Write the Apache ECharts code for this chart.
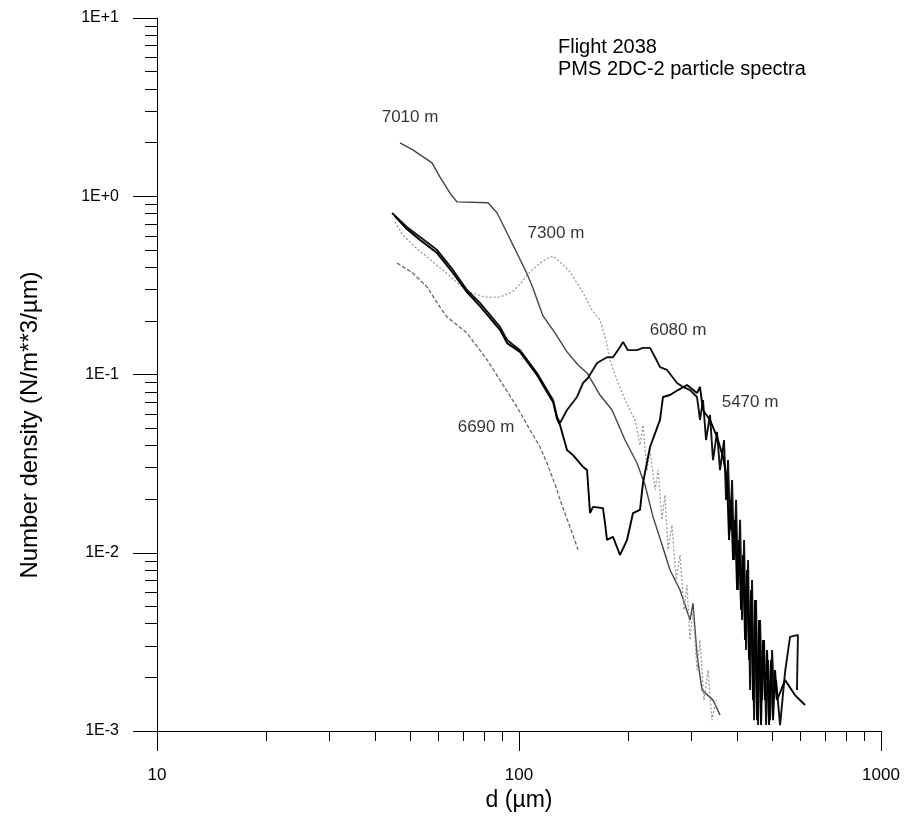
<!DOCTYPE html>
<html lang="en">
<head>
<meta charset="UTF-8">
<title>Flight 2038 - PMS 2DC-2 particle spectra</title>
<script src="https://cdn.jsdelivr.net/npm/echarts@6/dist/echarts.min.js"></script>
<style>
    html, body, #chart {
        width: 905px;
        height: 818px;
        margin: 0;
        padding: 0;
        background: #fff;
    }
</style>
</head>
<body>
<div id="chart"></div>
<script>
    var FONT = '"Liberation Sans", Arial, sans-serif';

    // d (um), number density (N/m**3/um)
    var s7010 = [[46.9, 1.99], [50.9, 1.82], [57.5, 1.54], [60.5, 1.28], [64.5, 1.04], [67.4, 0.93],
        [82.1, 0.92], [87.0, 0.805], [92.7, 0.622], [98.7, 0.48], [105, 0.371], [109, 0.31],
        [116.5, 0.213], [125.7, 0.171], [135.7, 0.134], [145.6, 0.113], [154.2, 0.102],
        [167.4, 0.0767], [180.7, 0.0632], [196.3, 0.0429], [211.8, 0.0319], [222.9, 0.024],
        [234.6, 0.0159], [248.4, 0.0111], [261.3, 0.008], [278.5, 0.00618], [296.8, 0.00419],
        [302.5, 0.0052], [310.3, 0.00267], [320.3, 0.0017], [343.5, 0.00149], [359.2, 0.00123]];

    var s7300 = [[45.4, 0.717], [47.8, 0.606], [51.6, 0.519], [55.7, 0.456], [62.5, 0.376],
        [68.7, 0.318], [73.2, 0.29], [80.5, 0.272], [88.6, 0.272], [95.6, 0.29], [101.9, 0.33],
        [107.3, 0.376], [114.3, 0.422], [120.3, 0.45], [124.2, 0.462], [129.8, 0.428],
        [138.4, 0.376], [144.6, 0.326], [150.3, 0.287], [159.1, 0.23], [167.4, 0.202],
        [173.9, 0.156], [178.4, 0.121], [186.5, 0.0931], [196.3, 0.0719], [209.1, 0.0556],
        [215.9, 0.0402], [220.0, 0.0521], [225.7, 0.0291], [230.1, 0.0377], [237.6, 0.0225],
        [242.1, 0.0291], [248.4, 0.0153], [253.1, 0.0211], [258.0, 0.0104], [264.7, 0.0143],
        [271.5, 0.00703], [278.5, 0.00971], [285.7, 0.00477], [291.1, 0.00659], [296.8, 0.00324],
        [302.5, 0.00477], [310.3, 0.0022], [316.2, 0.00324], [324.4, 0.00149], [332.7, 0.0022],
        [341.3, 0.00115], [350.1, 0.00149]];

    var s6690 = [[46.0, 0.422], [50.9, 0.371], [55.7, 0.31], [60.5, 0.239], [63.3, 0.21],
        [71.8, 0.171], [81.6, 0.121], [88.6, 0.0931], [98.7, 0.0657], [107.3, 0.0488],
        [114.3, 0.0392], [119.5, 0.0319], [127.4, 0.0225], [129.8, 0.0198], [138.4, 0.0139],
        [145.6, 0.0104]];

    var s6080 = [[44.6, 0.805], [49.0, 0.672], [53.3, 0.591], [59.4, 0.499], [65.7, 0.386],
        [71.8, 0.298], [78.0, 0.252], [88.6, 0.185], [92.7, 0.156], [100.6, 0.137],
        [112.1, 0.102], [119.5, 0.0818], [124.2, 0.0719], [127.4, 0.0578], [129.8, 0.0534],
        [135.7, 0.0632], [144.6, 0.0748], [150.3, 0.0896], [155.1, 0.0956], [164.3, 0.116],
        [175.0, 0.125], [181.8, 0.125], [187.7, 0.137], [193.8, 0.152], [200.0, 0.137],
        [211.8, 0.137], [220.0, 0.141], [230.1, 0.141], [237.6, 0.125], [245.2, 0.11],
        [256.4, 0.106], [273.3, 0.0896], [283.8, 0.0851], [296.8, 0.0818], [310.3, 0.0748],
        [316.2, 0.0556], [322.3, 0.0719], [328.6, 0.0429], [337.0, 0.0593], [343.5, 0.0331],
        [352.4, 0.0476], [359.2, 0.0291],
        [368.5, 0.0429], [373.2, 0.0198], [378.0, 0.0331], [382.9, 0.0134],
        [387.8, 0.0256], [392.7, 0.00911], [397.8, 0.0198], [402.9, 0.00618], [408.0, 0.0153],
        [413.3, 0.00419], [418.6, 0.0118], [423.9, 0.00285], [429.3, 0.00911], [434.8, 0.0017],
        [440.4, 0.00703], [446.0, 0.00115], [451.7, 0.00543], [457.5, 0.00108], [463.4, 0.00419],
        [469.3, 0.00149], [475.3, 0.00324], [481.4, 0.00108], [487.6, 0.0025], [493.8, 0.00115],
        [500.2, 0.00285], [506.6, 0.00149], [513.0, 0.00193], [526.3, 0.00108], [543.2, 0.00214],
        [560.6, 0.00337], [589.6, 0.00346], [585.9, 0.0017]];

    var s5470 = [[45.4, 0.775], [49.0, 0.655], [53.3, 0.569], [59.4, 0.48], [65.7, 0.371],
        [71.8, 0.29], [78.0, 0.242], [88.6, 0.178], [92.7, 0.15], [100.6, 0.134],
        [112.1, 0.0994], [119.5, 0.0797], [124.2, 0.0702], [127.4, 0.0563], [129.8, 0.0521],
        [135.7, 0.0377], [141.0, 0.0353], [150.3, 0.0303], [154.2, 0.0291], [157.1, 0.0167],
        [160.1, 0.0181], [170.6, 0.0178], [172.8, 0.0147], [175.0, 0.0118], [181.8, 0.0123],
        [190.1, 0.00971], [198.8, 0.0118], [206.5, 0.0167], [215.9, 0.0174], [220.0, 0.0246],
        [230.1, 0.0392], [245.2, 0.0556], [249.9, 0.0748], [261.3, 0.0767], [275.0, 0.0818],
        [291.1, 0.0873], [310.3, 0.0787], [316.2, 0.0851], [322.3, 0.0632], [337.0, 0.0556],
        [352.4, 0.0446], [366.1, 0.0345], [375.6, 0.0256],
        [380.4, 0.0118], [385.3, 0.0198], [390.2, 0.00911], [395.2, 0.0153], [400.3, 0.00618],
        [405.4, 0.0118], [410.6, 0.00477], [415.9, 0.00971], [421.2, 0.00324], [426.6, 0.008],
        [432.0, 0.0025], [437.6, 0.00618], [443.2, 0.00149], [448.8, 0.00543], [454.6, 0.00115],
        [460.4, 0.00419], [466.3, 0.00108], [472.3, 0.00324], [478.3, 0.00149], [484.5, 0.00285],
        [490.7, 0.00108], [497.0, 0.0025], [503.4, 0.00115], [509.8, 0.0022], [516.3, 0.00149],
        [543.2, 0.00193], [578.5, 0.00159], [616.8, 0.0014]];

    var curveLabels = [[50.0, 2.78, '7010 m'], [126.5, 0.622, '7300 m'], [275, 0.178, '6080 m'],
        [434.8, 0.0702, '5470 m'], [81.1, 0.0507, '6690 m']];

    var xMinorTicks = [20, 30, 40, 50, 60, 70, 80, 90, 200, 300, 400, 500, 600, 700, 800, 900];
    var yMinorTicks = [0.002, 0.003, 0.004, 0.005, 0.006, 0.007, 0.008, 0.009,
        0.02, 0.03, 0.04, 0.05, 0.06, 0.07, 0.08, 0.09,
        0.2, 0.3, 0.4, 0.5, 0.6, 0.7, 0.8, 0.9,
        2, 3, 4, 5, 6, 7, 8, 9];

    function line(data, color, width, type) {
        return {
            type: "line",
            data: data,
            showSymbol: false,
            symbol: "none",
            silent: true,
            lineStyle: {color: color, width: width, type: type}
        };
    }

    var gridRect = {left: 157, right: 24, top: 18, bottom: 87};
    var chart = echarts.init(document.getElementById("chart"));
    chart.setOption({
        animation: false,
        backgroundColor: "#fff",
        grid: [gridRect, gridRect],
        xAxis: [{
            type: "log",
            logBase: 10,
            min: 10,
            max: 1000,
            gridIndex: 0,
            name: "d (\u00b5m)",
            nameLocation: "middle",
            nameGap: 56,
            nameTextStyle: {fontFamily: FONT, fontSize: 23, color: "#000"},
            axisLine: {lineStyle: {color: "#000", width: 1}},
            axisTick: {length: 20, lineStyle: {color: "#000"}},
            axisLabel: {
                margin: 36,
                fontFamily: FONT,
                fontSize: 17,
                color: "#000",
                formatter: function (v) { return String(Math.round(v)); }
            },
            splitLine: {show: false}
        }, {
            type: "value",
            min: 1,
            max: 3,
            gridIndex: 1,
            axisLine: {show: false, onZero: false},
            axisLabel: {show: false},
            splitLine: {show: false},
            axisTick: {
                show: true,
                length: 10,
                customValues: xMinorTicks.map(function (v) { return Math.log10(v); }),
                lineStyle: {color: "#000"}
            }
        }],
        yAxis: [{
            type: "log",
            logBase: 10,
            min: 0.001,
            max: 10,
            gridIndex: 0,
            axisLine: {lineStyle: {color: "#000", width: 1}},
            axisTick: {length: 24, lineStyle: {color: "#000"}},
            axisLabel: {
                margin: 38,
                fontFamily: FONT,
                fontSize: 16,
                color: "#000",
                formatter: function (v) {
                    var e = Math.round(Math.log10(v));
                    return "1E" + (e >= 0 ? "+" : "-") + Math.abs(e);
                }
            },
            splitLine: {show: false}
        }, {
            type: "value",
            min: -3,
            max: 1,
            gridIndex: 1,
            axisLine: {show: false, onZero: false},
            axisLabel: {show: false},
            splitLine: {show: false},
            axisTick: {
                show: true,
                length: 12,
                customValues: yMinorTicks.map(function (v) { return Math.log10(v); }),
                lineStyle: {color: "#000"}
            }
        }],
        graphic: [{
            type: "text",
            x: 30,
            y: 425,
            rotation: Math.PI / 2,
            style: {
                text: "Number density (N/m**3/\u00b5m)",
                fontFamily: FONT,
                fontSize: 24,
                fill: "#000",
                align: "center",
                verticalAlign: "middle"
            }
        }, {
            type: "text",
            x: 558,
            y: 47,
            style: {text: "Flight 2038", fontFamily: FONT, fontSize: 20, fill: "#000", verticalAlign: "middle"}
        }, {
            type: "text",
            x: 558,
            y: 69,
            style: {text: "PMS 2DC-2 particle spectra", fontFamily: FONT, fontSize: 20, fill: "#000", verticalAlign: "middle"}
        }],
        series: [
            line(s7010, "#444", 1.4, "solid"),
            line(s7300, "#9a9a9a", 1.3, [2, 2]),
            line(s6690, "#6a6a6a", 1.3, [4, 2]),
            line(s6080, "#111", 1.9, "solid"),
            line(s5470, "#000", 1.9, "solid"),
            {
                type: "scatter",
                data: curveLabels,
                symbolSize: 0,
                silent: true,
                label: {
                    show: true,
                    position: "inside",
                    fontFamily: FONT,
                    fontSize: 17,
                    color: "#000",
                    formatter: function (p) { return p.data[2]; }
                }
            }
        ]
    });
</script>
</body>
</html>
